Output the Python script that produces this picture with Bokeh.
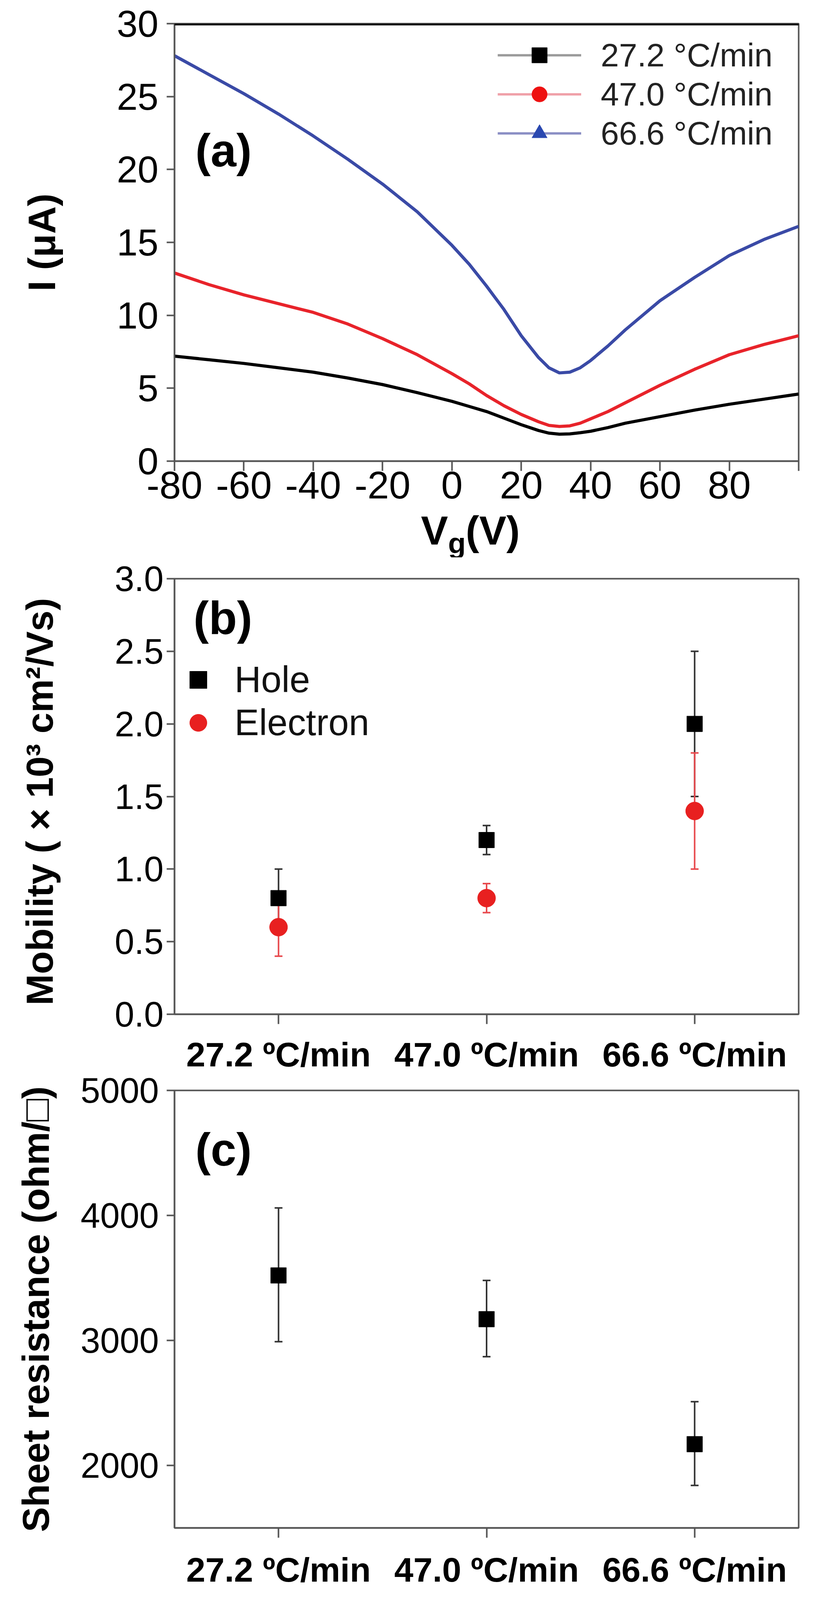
import math
from bokeh.plotting import figure
from bokeh.models import (Range1d, FixedTicker, Span, Label, Legend, LegendItem, Div,
                          ColumnDataSource, NumeralTickFormatter)
from bokeh.layouts import column
from bokeh.embed import file_html
from bokeh.resources import INLINE

# ---------------- data ----------------
vg = [-80, -70, -60, -50, -40, -30, -20, -10, 0, 5, 10, 15, 20, 25, 28, 31, 34, 37, 40, 45, 50, 60, 70, 80, 90, 100]
i_272 = [7.2, 6.95, 6.7, 6.4, 6.1, 5.7, 5.25, 4.7, 4.1, 3.75, 3.4, 2.95, 2.5, 2.1, 1.92, 1.85, 1.87, 1.95, 2.05, 2.3, 2.6, 3.05, 3.5, 3.9, 4.25, 4.6]
i_470 = [12.9, 12.1, 11.4, 10.8, 10.2, 9.4, 8.4, 7.3, 6.0, 5.3, 4.5, 3.8, 3.2, 2.7, 2.45, 2.38, 2.42, 2.6, 2.9, 3.4, 4.0, 5.2, 6.3, 7.3, 8.0, 8.6]
i_666 = [27.8, 26.5, 25.2, 23.8, 22.3, 20.7, 19.0, 17.1, 14.8, 13.5, 12.0, 10.4, 8.6, 7.1, 6.4, 6.05, 6.1, 6.4, 6.9, 7.9, 9.0, 11.0, 12.6, 14.1, 15.2, 16.1]
legend_a = ["27.2 °C/min", "47.0 °C/min", "66.6 °C/min"]
x_ticks_a = [-80, -60, -40, -20, 0, 20, 40, 60, 80, 100]
x_labels_a = ["-80", "-60", "-40", "-20", "0", "20", "40", "60", "80", ""]
y_ticks_a = [0, 5, 10, 15, 20, 25, 30]

rates = ["27.2 ºC/min", "47.0 ºC/min", "66.6 ºC/min"]
hole = [0.8, 1.2, 2.0]
hole_lo = [0.6, 1.1, 1.5]
hole_hi = [1.0, 1.3, 2.5]
elec = [0.6, 0.8, 1.4]
elec_lo = [0.4, 0.7, 1.0]
elec_hi = [0.8, 0.9, 1.8]
y_ticks_b = [0.0, 0.5, 1.0, 1.5, 2.0, 2.5, 3.0]

rs = [3520, 3170, 2170]
rs_lo = [2990, 2870, 1840]
rs_hi = [4060, 3480, 2510]
y_ticks_c = [2000, 3000, 4000, 5000]

xpos = list(range(1, len(rates) + 1))

FONT = "Liberation Sans"
AX = "#555555"
BLACK = "#000000"
RED = "#e8232a"
BLUE = "#3a4aa6"


def style(p, xstand, ystand):
    p.grid.visible = False
    p.outline_line_color = AX
    p.outline_line_width = 4
    p.background_fill_color = "white"
    p.border_fill_color = "white"
    for ax in (p.xaxis[0], p.yaxis[0]):
        ax.axis_line_color = AX
        ax.axis_line_width = 4
        ax.major_tick_line_color = AX
        ax.major_tick_line_width = 4
        ax.major_tick_in = 0
        ax.minor_tick_line_color = None
        ax.major_label_text_font = FONT
        ax.major_label_text_color = "black"
        ax.axis_label_text_font = FONT
        ax.axis_label_text_font_style = "bold"
        ax.axis_label_text_color = "black"
    p.xaxis[0].major_tick_out = 25
    p.yaxis[0].major_tick_out = 20
    p.xaxis[0].major_label_standoff = xstand
    p.yaxis[0].major_label_standoff = ystand


def panel_label(p, x, y, t):
    p.add_layout(Label(x=x, y=y, text=t, text_font=FONT, text_font_size="118px",
                       text_font_style="bold", text_color="black",
                       text_baseline="middle", text_align="left"))


def error_bars(p, src, col):
    p.segment(x0="x", y0="lo", x1="x", y1="hi", source=src, line_color=col, line_width=4)
    p.scatter("x", "lo", source=src, marker="dash", size=20, line_color=col, line_width=4)
    p.scatter("x", "hi", source=src, marker="dash", size=20, line_color=col, line_width=4)


# ---------------- (a) ----------------
pa = figure(width=2100, height=1306, x_range=Range1d(-80, 100), y_range=Range1d(0, 30),
            output_backend="svg", toolbar_location=None,
            min_border_left=440, min_border_right=57, min_border_top=60, min_border_bottom=126)
style(pa, 2, 21)
pa.xaxis[0].ticker = FixedTicker(ticks=x_ticks_a)
pa.xaxis[0].major_label_overrides = dict(zip(x_ticks_a, x_labels_a))
pa.yaxis[0].ticker = FixedTicker(ticks=y_ticks_a)
pa.xaxis[0].major_label_text_font_size = "99px"
pa.yaxis[0].major_label_text_font_size = "96px"
pa.yaxis[0].axis_label = "I (μA)"
pa.yaxis[0].axis_label_text_font_size = "98px"
pa.yaxis[0].axis_label_standoff = 134

pa.line(vg, i_272, line_color=BLACK, line_width=8)
pa.line(vg, i_470, line_color=RED, line_width=8)
pa.line(vg, i_666, line_color=BLUE, line_width=8)
pa.add_layout(Span(location=30, dimension="width", line_color="black", line_width=9))

nan = [math.nan]
items = []
for lab, lc, mc, mk in zip(legend_a, ["#9a9a9a", "#f0a0a8", "#8a8ec4"],
                           [BLACK, "#ee1111", "#2a48b0"], ["square", "circle", "triangle"]):
    r1 = pa.line(nan, nan, line_color=lc, line_width=6)
    r2 = pa.scatter(nan, nan, marker=mk, fill_color=mc, line_color=mc)
    items.append(LegendItem(label=lab, renderers=[r1, r2]))
leg_a = Legend(items=items, location=(827, 790), glyph_width=214, glyph_height=98,
               label_standoff=50, spacing=2, padding=0, margin=0,
               border_line_color=None, background_fill_alpha=0,
               label_text_font=FONT, label_text_font_size="84px", label_text_color="#222222")
pa.add_layout(leg_a)
panel_label(pa, -74.0, 21.3, "(a)")

vg_label = Div(text=("<div style=\"font-family:'Liberation Sans',Arial,sans-serif;font-weight:bold;"
                     "font-size:104px;line-height:104px;margin-left:1077px;white-space:nowrap;color:#000\">"
                     "V<sub style=\"font-size:74px;line-height:0\">g</sub>(V)</div>"),
               width=2100, height=120, margin=0)

# ---------------- (b) ----------------
pb = figure(width=2100, height=1325, x_range=Range1d(0.5, 3.5), y_range=Range1d(0, 3),
            output_backend="svg", toolbar_location=None,
            min_border_left=446, min_border_right=44, min_border_top=55, min_border_bottom=150)
style(pb, 28, 8)
pb.xaxis[0].ticker = FixedTicker(ticks=xpos)
pb.xaxis[0].major_label_overrides = dict(zip(xpos, rates))
pb.yaxis[0].ticker = FixedTicker(ticks=y_ticks_b)
pb.yaxis[0].formatter = NumeralTickFormatter(format="0.0")
pb.xaxis[0].major_label_text_font_size = "88px"
pb.xaxis[0].major_label_text_font_style = "bold"
pb.yaxis[0].major_label_text_font_size = "90px"
pb.yaxis[0].axis_label = "Mobility  ( × 10³ cm²/Vs)"
pb.yaxis[0].axis_label_text_font_size = "96px"
pb.yaxis[0].axis_label_standoff = 135

src_h = ColumnDataSource(dict(x=xpos, y=hole, lo=hole_lo, hi=hole_hi))
src_e = ColumnDataSource(dict(x=xpos, y=elec, lo=elec_lo, hi=elec_hi))
error_bars(pb, src_h, "#333333")
error_bars(pb, src_e, "#e84a4e")
rh = pb.scatter("x", "y", source=src_h, marker="square", size=40, fill_color=BLACK, line_color=BLACK)
re_ = pb.scatter("x", "y", source=src_e, marker="circle", size=46, fill_color="#e82020", line_color="#e82020")
leg_b = Legend(items=[LegendItem(label="Hole", renderers=[rh]), LegendItem(label="Electron", renderers=[re_])],
               location=(5, 691), glyph_width=112, glyph_height=110, label_standoff=37,
               spacing=0, padding=0, margin=0, border_line_color=None, background_fill_alpha=0,
               label_text_font=FONT, label_text_font_size="94px", label_text_color="#111111")
pb.add_layout(leg_b)
panel_label(pb, 0.591, 2.73, "(b)")

# ---------------- (c) ----------------
pc = figure(width=2100, height=1390, x_range=Range1d(0.5, 3.5), y_range=Range1d(1500, 5000),
            output_backend="svg", toolbar_location=None,
            min_border_left=446, min_border_right=44, min_border_top=40, min_border_bottom=230)
style(pc, 32, 20)
pc.xaxis[0].ticker = FixedTicker(ticks=xpos)
pc.xaxis[0].major_label_overrides = dict(zip(xpos, rates))
pc.yaxis[0].ticker = FixedTicker(ticks=y_ticks_c)
pc.yaxis[0].formatter = NumeralTickFormatter(format="0")
pc.xaxis[0].major_label_text_font_size = "88px"
pc.xaxis[0].major_label_text_font_style = "bold"
pc.yaxis[0].major_label_text_font_size = "90px"
pc.yaxis[0].axis_label = "Sheet resistance (ohm/□)"
pc.yaxis[0].axis_label_text_font_size = "96px"
pc.yaxis[0].axis_label_standoff = 58

src_r = ColumnDataSource(dict(x=xpos, y=rs, lo=rs_lo, hi=rs_hi))
error_bars(pc, src_r, "#333333")
pc.scatter("x", "y", source=src_r, marker="square", size=40, fill_color=BLACK, line_color=BLACK)
panel_label(pc, 0.60, 4526, "(c)")

layout = column(pa, vg_label, pb, pc, spacing=0)
open("out.html", "w").write(file_html(layout, INLINE))
